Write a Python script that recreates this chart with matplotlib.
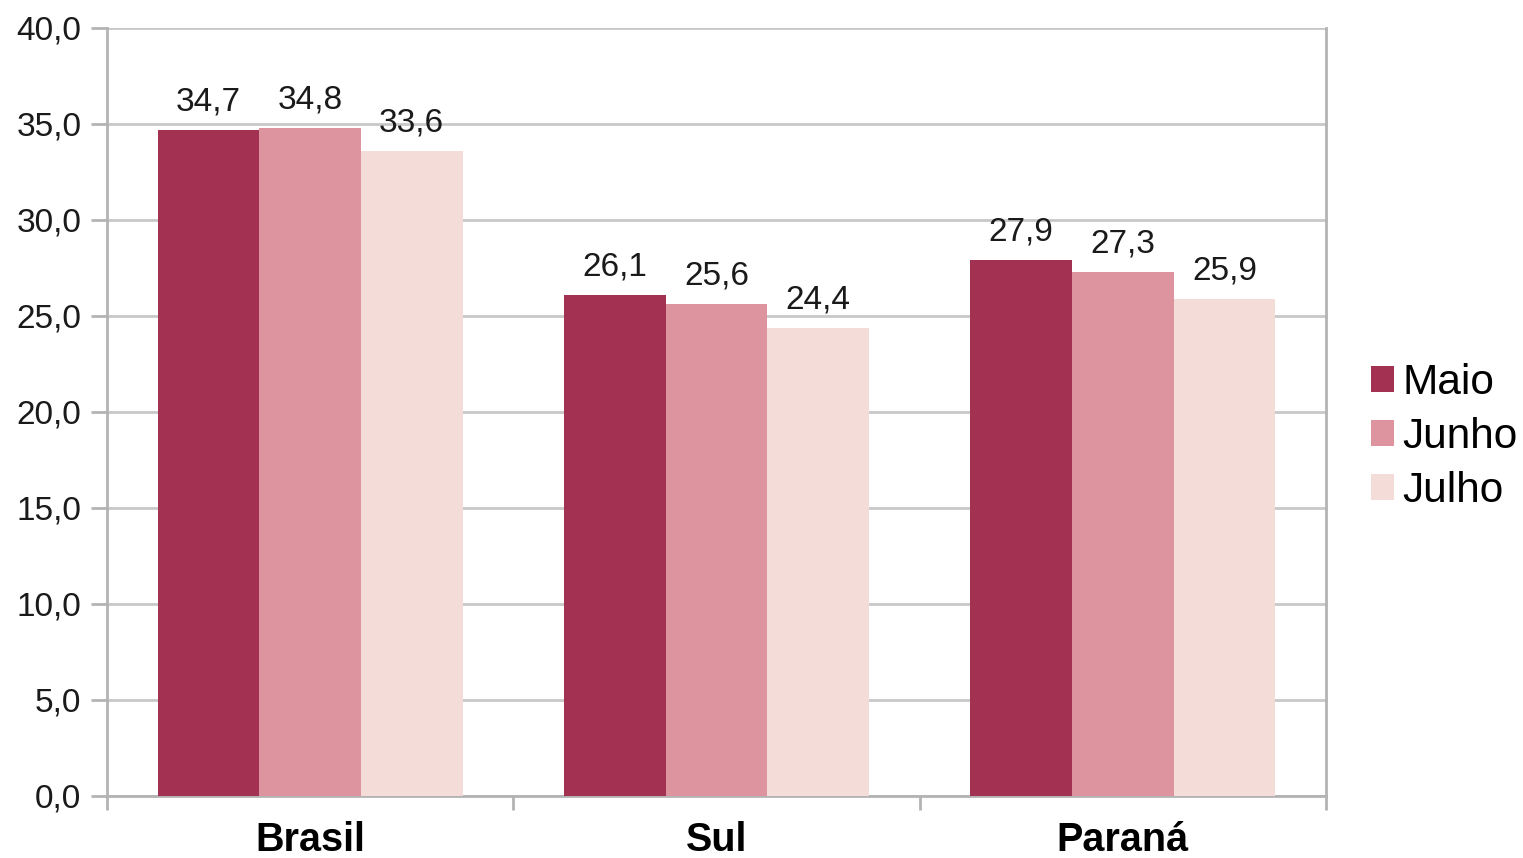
import matplotlib
matplotlib.use("Agg")
import matplotlib.pyplot as plt
from matplotlib.patches import Patch
import numpy as np

categories = ["Brasil", "Sul", "Paraná"]
series_names = ["Maio", "Junho", "Julho"]
maio = [34.7, 26.1, 27.9]
junho = [34.8, 25.6, 27.3]
julho = [33.6, 24.4, 25.9]
colors = ["#A33151", "#DD949F", "#F4DCD9"]
y_ticks = [0, 5, 10, 15, 20, 25, 30, 35, 40]

plt.rcParams["font.family"] = ["Liberation Sans", "DejaVu Sans"]

fig = plt.figure(figsize=(15.23, 8.58), dpi=100)
ax = fig.add_axes([107 / 1523, 1 - 796 / 858, (1326 - 107) / 1523, (796 - 28) / 858])

x = np.arange(len(categories))
width = 0.25
offsets = [-width, 0, width]
for vals, name, col, off in zip([maio, junho, julho], series_names, colors, offsets):
    bars = ax.bar(x + off, vals, width, color=col, label=name, zorder=3, linewidth=0)
    for b, v in zip(bars, vals):
        ax.annotate(f"{v:.1f}".replace(".", ","),
                    (b.get_x() + b.get_width() / 2, v),
                    xytext=(0, 9), textcoords="offset points",
                    ha="center", va="bottom", fontsize=24, color="#1a1a1a")

ax.set_xlim(-0.5, 2.5)
ax.set_ylim(0, 40)
ax.set_yticks(y_ticks)
ax.set_yticklabels([f"{t:.1f}".replace(".", ",") for t in y_ticks], fontsize=24, color="#1a1a1a")
ax.set_xticks(x)
ax.set_xticklabels(categories, fontsize=28.5, fontweight="bold", color="black")
ax.set_xticks([-0.5, 0.5, 1.5, 2.5], minor=True)
ax.tick_params(axis="x", which="major", length=0, pad=18)
ax.tick_params(axis="x", which="minor", length=10, width=2, color="#B3B3B3")
ax.tick_params(axis="y", length=11.5, width=2, color="#B3B3B3", pad=7)

ax.grid(axis="y", color="#C8C8C8", linewidth=2, zorder=0)
ax.set_axisbelow(True)
for side in ["left", "bottom", "right", "top"]:
    ax.spines[side].set_color("#B3B3B3")
    ax.spines[side].set_linewidth(2)
ax.spines["top"].set_visible(False)

handles = [Patch(facecolor=c, edgecolor="none", label=n) for c, n in zip(colors, series_names)]
fig.legend(handles=handles, loc="center left", bbox_to_anchor=(1371 / 1523, 1 - 437 / 858),
           frameon=False, fontsize=30.5, handlelength=0.55, handleheight=0.55,
           handletextpad=0.2, labelspacing=0.33, borderpad=0, borderaxespad=0)

fig.savefig("out.png", dpi=100)
